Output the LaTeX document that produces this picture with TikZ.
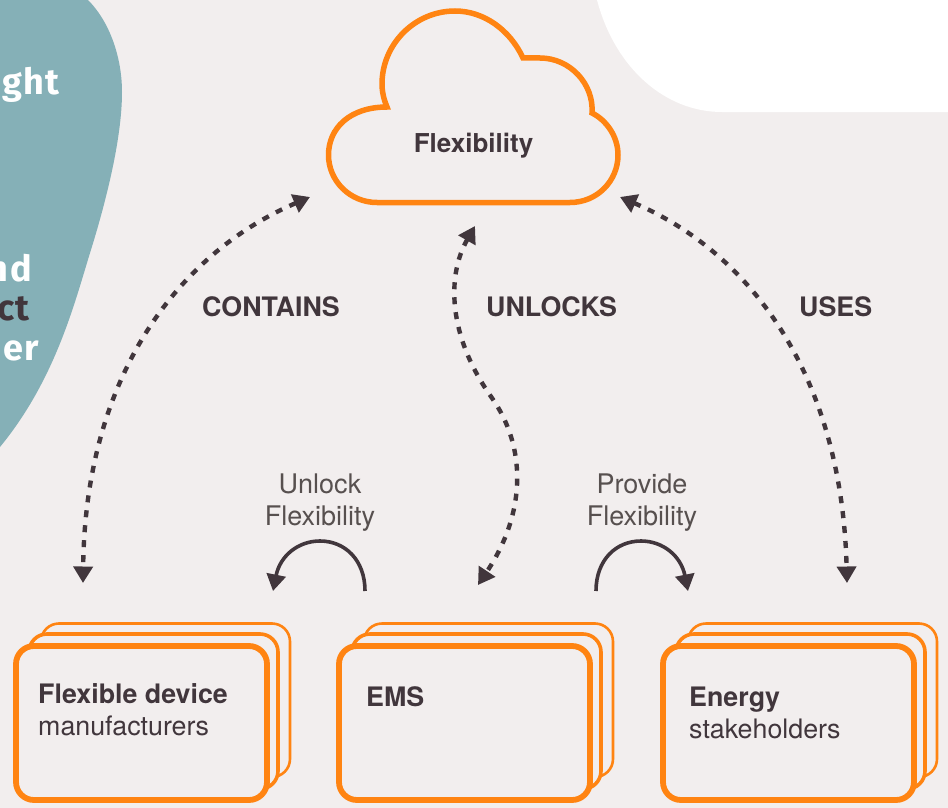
\documentclass[tikz,border=0pt]{standalone}
\usepackage{fontspec}
\setmainfont{TeX Gyre Heros}
\newfontfamily\dinfont[LetterSpace=4]{Fira Sans}
\usetikzlibrary{arrows.meta}
\definecolor{bgc}{HTML}{F2EEEE}
\definecolor{tealc}{HTML}{85B0B7}
\definecolor{orng}{HTML}{FF8412}
\definecolor{inkc}{HTML}{41363C}
\definecolor{greyc}{HTML}{57504F}
\tikzset{
 x=1pt,y=-1pt,
 card/.style={draw=orng,fill=bgc,rounded corners=18pt},
 cardtext/.style={anchor=base west,font=\fontsize{26.8}{30}\selectfont,text=inkc,inner sep=0pt,align=left},
 rel/.style={draw=inkc,line width=4.4pt,dash pattern=on 7pt off 8pt,{Triangle[length=16.5pt,width=19pt,sep=0pt]}-{Triangle[length=16.5pt,width=19pt]}},
 rellabel/.style={font=\fontsize{26.8}{30}\selectfont\bfseries,text=inkc,inner sep=0pt,anchor=base west},
 loopl/.style={draw=inkc,line width=3.6pt,-{Triangle[length=16.5pt,width=19pt]}},
 looplabel/.style={font=\fontsize{27}{32}\selectfont,text=greyc,inner sep=0pt,align=center,anchor=base},
 sidetext/.style={font=\dinfont\fontsize{36}{40}\selectfont\bfseries,inner sep=0pt,anchor=base east}
}
\begin{document}
\begin{tikzpicture}
\useasboundingbox (0,0) rectangle (948,808);
\fill[bgc] (0,0) rectangle (948,808);
% corner shapes
\fill[white] (597,0) .. controls (615,68) and (665,112) .. (722,112) -- (948,112) -- (948,0) -- cycle;
\fill[tealc] (0,0) -- (88,0) .. controls (110,22) and (122,58) .. (122,92) .. controls (122,140) and (105,205) .. (90,253) .. controls (74,305) and (55,380) .. (0,447) -- cycle;
\begin{scope}
\clip (0,0) rectangle (948,808);
\node[sidetext,text=white] (t1) at (60,95) {ght};
\node[sidetext,text=white] (t2) at (32,281) {nd};
\node[sidetext,text=inkc] (t3) at (30,320) {ct};
\node[sidetext,text=white] (t4) at (39,360) {er};
\end{scope}
% cloud
\draw[orng,line width=5.5pt,line join=miter,fill=bgc]
 (377,202.5) .. controls (350,202.5) and (328.5,181) .. (328.5,155)
 .. controls (328.5,128) and (350,107) .. (387,107)
 .. controls (384,100) and (382,92) .. (382,84)
 .. controls (382,44) and (415,11) .. (455,11)
 .. controls (484,11) and (510,30) .. (523,58)
 -- (540,58) .. controls (570,58) and (594,84) .. (592,113)
 .. controls (606,120) and (618,136) .. (618,155)
 .. controls (618,181) and (597,202.5) .. (570,202.5) -- cycle;
\node[font=\fontsize{26}{30}\selectfont\bfseries,text=inkc,inner sep=0pt] (flex) at (473.5,146) {Flexibility};
% cards
\foreach \o/\n in {0/a,323/b,647/c}{
 \begin{scope}[xshift=\o pt]
 \draw[card,line width=2.6pt] (41,623.5) rectangle (290,777);
 \draw[card,line width=3.6pt] (29,634) rectangle (278,789);
 \draw[card,line width=5.8pt] (16,646) rectangle (267,800);
 \end{scope}
}
\node[cardtext] (fd) at (38,703) {\textbf{Flexible device}};
\node[cardtext] (fd2) at (38,735) {manufacturers};
\node[cardtext] (ems) at (366,706) {\textbf{EMS}};
\node[cardtext] (en) at (689,706) {\textbf{Energy}};
\node[cardtext] (en2) at (689,738) {stakeholders};
% connector ends
\coordinate (c1) at (310,197);
\coordinate (c2) at (83,583);
\coordinate (u1) at (475,226);
\coordinate (um) at (492,398);
\coordinate (u2) at (478,585);
\coordinate (s1) at (620,197);
\coordinate (s2) at (847,583);
\draw[rel] (c1) .. controls (175,255) and (85,380) .. (c2);
\draw[rel] (u1) .. controls (447,275) and (447,335) .. (um) .. controls (525,445) and (528,510) .. (u2);
\draw[rel] (s1) .. controls (755,255) and (842,380) .. (s2);
\node[rellabel] (l1) at (202,316) {CONTAINS};
\node[rellabel] (l2) at (486,316) {UNLOCKS};
\node[rellabel] (l3) at (799,316) {USES};
% loops
\coordinate (a1) at (365,591);
\coordinate (a2) at (273,591);
\coordinate (b1) at (596,591);
\coordinate (b2) at (688,591);
\draw[loopl] (a1) .. controls (365,560) and (345,541) .. (320,541) .. controls (298,541) and (280,556) .. (a2);
\draw[loopl] (b1) .. controls (596,560) and (616,541) .. (641,541) .. controls (663,541) and (681,556) .. (b2);
\node[looplabel] (n1) at (320,525) {Unlock\\Flexibility};
\node[looplabel] (n2) at (642,525) {Provide\\Flexibility};
\end{tikzpicture}
\end{document}
